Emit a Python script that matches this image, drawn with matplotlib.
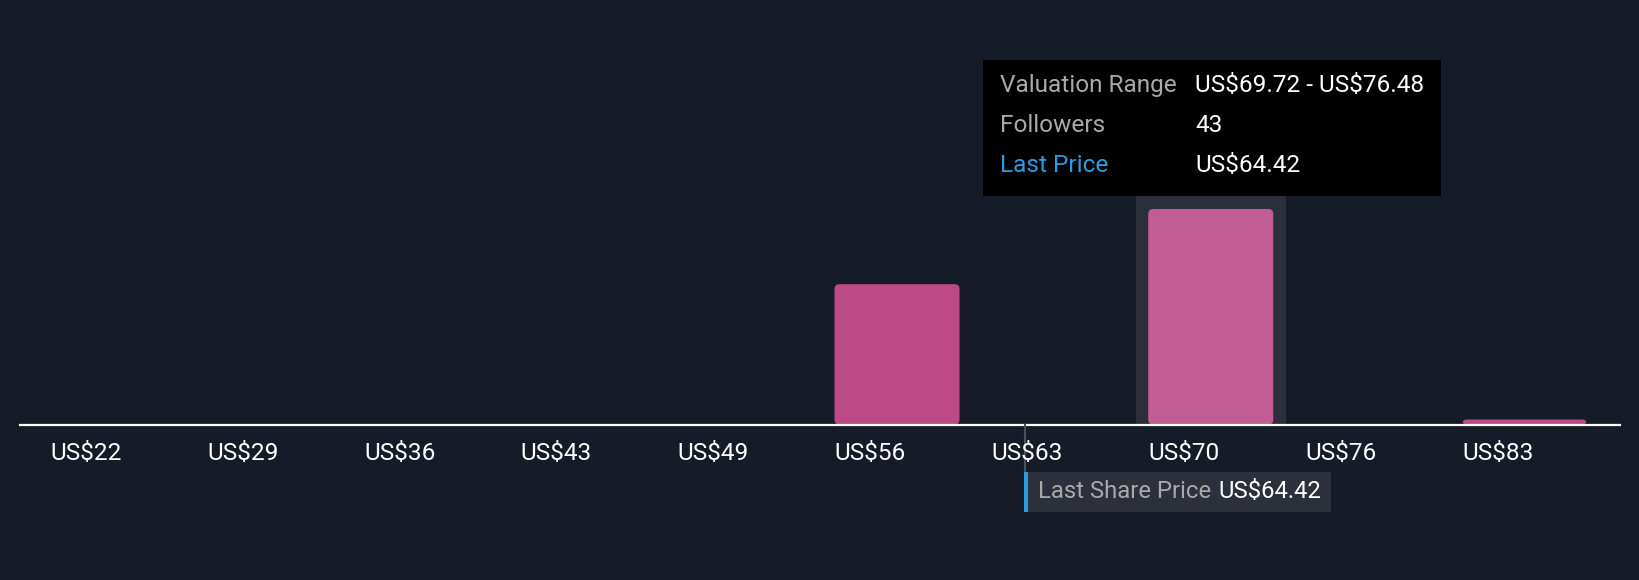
import matplotlib
matplotlib.use("Agg")
import matplotlib.pyplot as plt
from matplotlib.patches import FancyBboxPatch, Rectangle
from matplotlib.transforms import blended_transform_factory

# ---- data ----
bin_starts = [22.4, 29.16, 35.92, 42.68, 49.44, 56.2, 62.96, 69.72, 76.48, 83.24]
tick_labels = ["US$22", "US$29", "US$36", "US$43", "US$49",
               "US$56", "US$63", "US$70", "US$76", "US$83"]
followers = [0, 0, 0, 0, 0, 28, 0, 43, 0, 1]
highlight_index = 7
last_price = 64.42
range_low = 69.72
range_high = 76.48

BG = "#161c27"
BAR = "#bb4a86"
BAR_HI = "#c25d94"
HI_BG = "#2b2f3a"
GREY_TXT = "#a9a9a9"
BLUE = "#2f9ae0"
FS = 17.6
FS_LP = 17.2

plt.rcParams['font.family'] = ['Roboto', 'DejaVu Sans']
plt.rcParams['text.parse_math'] = False

W, H = 1640, 580
XMIN, XMAX = 21.1, 90.05
YMAX = 80.7
fig = plt.figure(figsize=(W / 100, H / 100), dpi=100, facecolor=BG)
ax_left, ax_right, ax_bottom, ax_top = 20, 1620, 424.5, 20
ax = fig.add_axes([ax_left / W, 1 - ax_bottom / H, (ax_right - ax_left) / W,
                   (ax_bottom - ax_top) / H])
ax.set_facecolor(BG)
ax.set_xlim(XMIN, XMAX)
ax.set_ylim(0, YMAX)
for s in ax.spines.values():
    s.set_visible(False)
ax.set_xticks([])
ax.set_yticks([])

px_per_x = (ax_right - ax_left) / (XMAX - XMIN)
px_per_y = (ax_bottom - ax_top) / YMAX
bar_w = 125 / px_per_x

# highlight band
hb_left = bin_starts[highlight_index] - 12.6 / px_per_x
ax.add_patch(Rectangle((hb_left, 0), 150 / px_per_x, followers[highlight_index] + 13.4 / px_per_y,
                       facecolor=HI_BG, edgecolor='none', zorder=1))

# bars with rounded corners
r = 5 / px_per_x
for i, (x0, f) in enumerate(zip(bin_starts, followers)):
    if f <= 0:
        continue
    col = BAR_HI if i == highlight_index else BAR
    p = FancyBboxPatch((x0, 0), bar_w, f,
                       boxstyle=f"round,pad=0,rounding_size={r}",
                       mutation_aspect=(px_per_x / px_per_y),
                       facecolor=col, edgecolor='none', zorder=2)
    ax.add_patch(p)

# baseline
ax.axhline(0, color='white', lw=1.6, zorder=3, clip_on=False)

# tick labels
tr = blended_transform_factory(ax.transData, fig.transFigure)
for x0, lab in zip(bin_starts, tick_labels):
    t = fig.text(0, 0, lab, transform=tr, fontsize=FS, color='white',
                 ha='left', va='baseline')
    t.set_position((x0, 1 - 460 / H))

# last price marker
renderer = fig.canvas.get_renderer()
fig.add_artist(plt.Line2D([last_price, last_price], [1 - 425 / H, 1 - 472 / H],
                          transform=tr, color="#4b4f58", lw=1.5))
lp_px = ax.transData.transform((last_price, 0))[0]
t1 = fig.text((lp_px + 13) / W, 1 - 497.5 / H, "Last Share Price", fontsize=FS_LP,
              color=GREY_TXT, ha='left', va='baseline', zorder=5)
e1 = t1.get_window_extent(renderer)
t2 = fig.text((e1.x1 + 7) / W, 1 - 497.5 / H, f"US${last_price:.2f}", fontsize=FS_LP,
              color='white', ha='left', va='baseline', zorder=5)
e2 = t2.get_window_extent(renderer)
box_w = e2.x1 + 10 - (lp_px - 1)
fig.add_artist(Rectangle(((lp_px - 1) / W, 1 - 511.5 / H), box_w / W, 39.5 / H,
                         transform=fig.transFigure, facecolor="#2c303a",
                         edgecolor='none', zorder=1))
fig.add_artist(Rectangle(((lp_px - 1) / W, 1 - 511.5 / H), 4 / W, 39.5 / H,
                         transform=fig.transFigure, facecolor=BLUE,
                         edgecolor='none', zorder=2))

# tooltip
fig.add_artist(Rectangle((983 / W, 1 - 195.7 / H), 458 / W, 135.7 / H,
                         transform=fig.transFigure, facecolor='black',
                         edgecolor='none'))
rows = [("Valuation Range", f"US${range_low:.2f} - US${range_high:.2f}", GREY_TXT),
        ("Followers", f"{followers[highlight_index]}", GREY_TXT),
        ("Last Price", f"US${last_price:.2f}", BLUE)]
for k, (lab, val, c) in enumerate(rows):
    yb = 91.7 + 40 * k
    fig.text(1000 / W, 1 - yb / H, lab, fontsize=FS, color=c, ha='left', va='baseline')
    fig.text(1195 / W, 1 - yb / H, val, fontsize=FS, color='white', ha='left', va='baseline')

fig.savefig("out.png", dpi=100, facecolor=BG)
